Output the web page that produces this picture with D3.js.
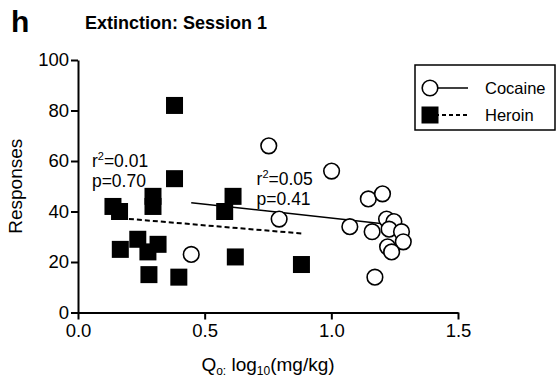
<!DOCTYPE html>
<html>
<head>
<meta charset="utf-8">
<script src="https://cdn.jsdelivr.net/npm/d3@7"></script>
<style>
  body { margin: 0; background: #fff; }
  svg { font-family: "Liberation Sans", Arial, sans-serif; }
</style>
</head>
<body>
<svg id="chart" width="560" height="385"></svg>
<script>
// values
var cocaineX = [0.753, 1.001, 0.794, 1.073, 1.146, 1.202, 1.161, 1.218, 1.247, 1.228, 1.277, 1.284, 1.222, 1.238, 1.172, 0.447];
var cocaineY = [66, 56, 37, 34, 45, 47, 32, 37, 36, 33, 32, 28, 26, 24, 14, 23];
var heroinX = [0.381, 0.381, 0.138, 0.164, 0.296, 0.296, 0.612, 0.579, 0.167, 0.236, 0.276, 0.316, 0.280, 0.398, 0.621, 0.882];
var heroinY = [82, 53, 42, 40, 46, 42, 46, 40, 25, 29, 24, 27, 15, 14, 22, 19];
// fit line ends (x, y)
var cocaineFitX = [0.447, 1.284];
var cocaineFitY = [43.5, 34.3];
var heroinFitX = [0.138, 0.882];
var heroinFitY = [37.6, 31.3];
var xTicks = [0, 0.5, 1.0, 1.5];
var yTicks = [0, 20, 40, 60, 80, 100];
var seriesNames = ["Cocaine", "Heroin"];

var margin = {top: 60, right: 102, bottom: 72.5, left: 78},
    width = 560 - margin.left - margin.right,
    height = 385 - margin.top - margin.bottom;

var svg = d3.select("#chart");

var x = d3.scaleLinear().domain([0, 1.5]).range([0, width]);
var y = d3.scaleLinear().domain([0, 100]).range([height, 0]);

var g = svg.append("g")
    .attr("transform", "translate(" + margin.left + "," + margin.top + ")");

// axes
var xAxis = g.append("g")
    .attr("transform", "translate(0," + height + ")")
    .call(d3.axisBottom(x).tickValues(xTicks).tickFormat(d3.format(".1f")).tickSize(7).tickSizeOuter(0).tickPadding(4));
var yAxis = g.append("g")
    .call(d3.axisLeft(y).tickValues(yTicks).tickSize(7).tickSizeOuter(0).tickPadding(2));

[xAxis, yAxis].forEach(function(a) {
    a.select(".domain").attr("stroke", "#000").attr("stroke-width", 2);
    a.selectAll(".tick line").attr("stroke", "#000").attr("stroke-width", 2);
    a.selectAll(".tick text").attr("fill", "#000").style("font-size", "18.5px");
});

// fit lines
var line = d3.line().x(function(d) { return x(d[0]); }).y(function(d) { return y(d[1]); });

g.append("path")
    .datum(d3.zip(cocaineFitX, cocaineFitY))
    .attr("d", line)
    .attr("fill", "none")
    .attr("stroke", "#000")
    .attr("stroke-width", 1.5);

g.append("path")
    .datum(d3.zip(heroinFitX, heroinFitY))
    .attr("d", line)
    .attr("fill", "none")
    .attr("stroke", "#000")
    .attr("stroke-width", 2)
    .attr("stroke-dasharray", "5,3");

// heroin squares
var sq = 17;
g.selectAll("rect.heroin")
    .data(d3.zip(heroinX, heroinY))
    .enter().append("rect")
    .attr("class", "heroin")
    .attr("x", function(d) { return x(d[0]) - sq / 2; })
    .attr("y", function(d) { return y(d[1]) - sq / 2; })
    .attr("width", sq)
    .attr("height", sq)
    .attr("fill", "#000");

// cocaine circles
g.selectAll("circle.cocaine")
    .data(d3.zip(cocaineX, cocaineY))
    .enter().append("circle")
    .attr("class", "cocaine")
    .attr("cx", function(d) { return x(d[0]); })
    .attr("cy", function(d) { return y(d[1]); })
    .attr("r", 7.8)
    .attr("fill", "#fff")
    .attr("stroke", "#000")
    .attr("stroke-width", 1.6);

// stats text
function stat(tx, ty, r2, p) {
    var t = g.append("text").attr("x", tx).attr("y", ty).style("font-size", "17.5px");
    t.append("tspan").text("r");
    t.append("tspan").attr("dy", -7).style("font-size", "11px").text("2");
    t.append("tspan").attr("dy", 7).text("=" + r2);
    g.append("text").attr("x", tx).attr("y", ty + 20).style("font-size", "17.5px").text("p=" + p);
}
stat(x(0.055), y(57.5), "0.01", "0.70");
stat(x(0.705), y(50.5), "0.05", "0.41");

// titles
svg.append("text").attr("x", 11).attr("y", 32)
    .style("font-size", "30px").style("font-weight", "bold").text("h");
svg.append("text").attr("x", 85).attr("y", 29)
    .style("font-size", "18px").style("font-weight", "bold").text("Extinction: Session 1");

svg.append("text")
    .attr("transform", "translate(22," + (margin.top + height / 2) + ") rotate(-90)")
    .attr("text-anchor", "middle")
    .style("font-size", "19px")
    .text("Responses");

var xl = svg.append("text")
    .attr("x", margin.left + width / 2)
    .attr("y", 371)
    .attr("text-anchor", "middle")
    .style("font-size", "19px");
xl.append("tspan").text("Q");
xl.append("tspan").attr("dy", 4).style("font-size", "12px").text("o:");
xl.append("tspan").attr("dy", -4).text(" log");
xl.append("tspan").attr("dy", 4).style("font-size", "12px").text("10");
xl.append("tspan").attr("dy", -4).text("(mg/kg)");

// legend
var lg = svg.append("g").attr("transform", "translate(415,65)");
lg.append("rect").attr("width", 140).attr("height", 65)
    .attr("fill", "#fff").attr("stroke", "#000").attr("stroke-width", 1.5);
var rows = lg.selectAll("g.row").data(seriesNames).enter().append("g")
    .attr("transform", function(d, i) { return "translate(0," + (23 + i * 27) + ")"; });
rows.append("line").attr("x1", 20).attr("x2", 53).attr("y1", 0).attr("y2", 0)
    .attr("stroke", "#000")
    .attr("stroke-width", function(d, i) { return i ? 2 : 1.5; })
    .attr("stroke-dasharray", function(d, i) { return i ? "4,3" : null; });
rows.filter(function(d, i) { return i === 0; }).append("circle")
    .attr("cx", 15).attr("cy", 0).attr("r", 7.8)
    .attr("fill", "#fff").attr("stroke", "#000").attr("stroke-width", 1.6);
rows.filter(function(d, i) { return i === 1; }).append("rect")
    .attr("x", 15 - sq / 2).attr("y", -sq / 2).attr("width", sq).attr("height", sq)
    .attr("fill", "#000");
rows.append("text").attr("x", 70).attr("y", 6).style("font-size", "16.5px")
    .text(function(d) { return d; });
</script>
</body>
</html>
